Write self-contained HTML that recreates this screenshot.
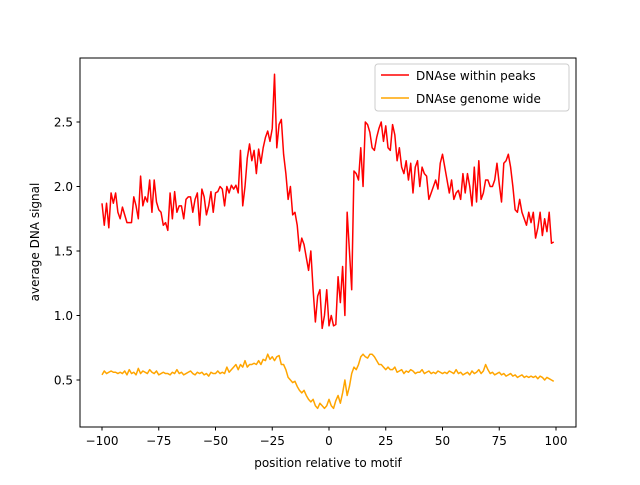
<!DOCTYPE html>
<html><head><meta charset="utf-8"><style>
body{margin:0;background:#fff;font-family:"Liberation Sans","DejaVu Sans",sans-serif}
text{font-family:"DejaVu Sans","Liberation Sans",sans-serif;font-size:12px;fill:#000}
</style></head><body>
<svg id="chart" width="640" height="480">
<rect x="0" y="0" width="640" height="480" fill="#fff"/>
<g id="plot"></g>
<rect x="80" y="58" width="496" height="369" fill="none" stroke="#000" stroke-width="1"/>
<g id="xt"></g><g id="yt"></g>
<text x="328" y="467" text-anchor="middle">position relative to motif</text>
<text transform="translate(39,242) rotate(-90)" text-anchor="middle">average DNA signal</text>
<g>
<rect x="375" y="64" width="194" height="47" rx="3" fill="#fff" stroke="#ccc"/>
<line x1="381" y1="75" x2="409" y2="75" stroke="red" stroke-width="1.5"/>
<text x="416" y="80">DNAse within peaks</text>
<line x1="381" y1="98" x2="409" y2="98" stroke="orange" stroke-width="1.5"/>
<text x="416" y="103">DNAse genome wide</text>
</g>
</svg>
<script>
const xTicks=[-100,-75,-50,-25,0,25,50,75,100];
const yTicks=[0.5,1.0,1.5,2.0,2.5];
const peaks=[1.87,1.70,1.87,1.68,1.95,1.87,1.95,1.80,1.75,1.84,
1.78,1.72,1.72,1.72,1.92,1.85,1.75,2.08,1.85,1.92,
1.88,2.05,1.80,2.05,1.88,1.82,1.80,1.70,1.72,1.66,
1.95,1.75,1.96,1.80,1.85,1.85,1.75,1.90,1.92,1.92,
1.80,1.90,1.95,1.70,1.98,1.92,1.78,1.85,1.96,1.80,
1.95,1.96,2.00,1.98,1.85,2.00,1.95,2.01,1.98,2.01,
1.95,2.28,1.85,2.00,2.22,2.33,2.20,2.28,2.10,2.29,
2.18,2.30,2.38,2.43,2.35,2.45,2.87,2.30,2.48,2.52,
2.25,2.10,1.90,2.00,1.78,1.80,1.70,1.50,1.60,1.55,
1.45,1.35,1.50,1.20,0.95,1.15,1.20,0.90,1.00,1.20,
0.92,1.00,0.92,0.93,1.30,1.10,1.38,1.00,1.80,1.50,
1.20,2.12,2.10,2.05,2.30,2.00,2.50,2.48,2.42,2.30,
2.28,2.38,2.45,2.50,2.35,2.47,2.30,2.28,2.48,2.40,
2.20,2.30,2.15,2.10,2.20,2.05,2.18,1.95,2.15,2.20,
2.00,2.15,2.10,2.08,1.90,1.95,2.00,2.05,1.98,2.18,
2.25,2.15,2.05,1.95,2.05,1.90,1.95,1.97,1.90,2.10,
1.95,2.10,2.00,1.85,2.15,1.88,2.20,1.90,1.95,2.05,
2.05,2.00,2.00,2.05,2.18,2.02,1.88,2.18,2.20,2.25,
2.15,2.00,1.82,1.80,1.90,1.80,1.75,1.70,1.80,1.72,
1.80,1.60,1.68,1.80,1.62,1.75,1.65,1.80,1.56,1.57];
const genome=[0.54,0.57,0.55,0.56,0.57,0.56,0.56,0.55,0.56,0.55,
0.57,0.54,0.58,0.55,0.56,0.54,0.59,0.55,0.57,0.56,
0.55,0.58,0.56,0.55,0.57,0.54,0.55,0.56,0.55,0.55,
0.54,0.56,0.55,0.58,0.55,0.56,0.54,0.55,0.56,0.57,
0.55,0.54,0.56,0.55,0.56,0.54,0.55,0.53,0.56,0.55,
0.55,0.57,0.55,0.56,0.55,0.60,0.56,0.58,0.60,0.62,
0.58,0.62,0.60,0.65,0.60,0.62,0.62,0.63,0.62,0.65,
0.62,0.66,0.65,0.70,0.66,0.68,0.65,0.68,0.69,0.62,
0.62,0.58,0.52,0.50,0.48,0.49,0.45,0.42,0.40,0.42,
0.38,0.35,0.33,0.35,0.30,0.28,0.32,0.30,0.28,0.30,
0.35,0.30,0.28,0.34,0.38,0.32,0.40,0.50,0.38,0.45,
0.55,0.60,0.58,0.62,0.68,0.70,0.68,0.67,0.70,0.70,
0.68,0.65,0.62,0.62,0.60,0.58,0.60,0.58,0.58,0.60,
0.56,0.57,0.58,0.55,0.57,0.56,0.58,0.57,0.55,0.56,
0.56,0.58,0.55,0.56,0.57,0.55,0.56,0.55,0.57,0.56,
0.55,0.56,0.55,0.57,0.56,0.55,0.58,0.55,0.56,0.54,
0.55,0.56,0.54,0.57,0.55,0.56,0.58,0.55,0.57,0.62,
0.58,0.55,0.56,0.54,0.55,0.56,0.54,0.55,0.53,0.54,
0.55,0.53,0.54,0.52,0.53,0.54,0.52,0.53,0.52,0.53,
0.52,0.53,0.51,0.53,0.52,0.50,0.52,0.51,0.50,0.49];
const NS='http://www.w3.org/2000/svg';
const xs=v=>102+(v+100)*(556-102)/200;
const ys=v=>315.5-(v-1.0)*129;
function mk(t,a,p){const e=document.createElementNS(NS,t);for(const k in a)e.setAttribute(k,a[k]);p.appendChild(e);return e;}
const plot=document.getElementById('plot');
function line(arr,color,name){
  const d=arr.map((v,i)=>(i?'L':'M')+xs(i-100).toFixed(2)+' '+ys(v).toFixed(2)).join(' ');
  const p=mk('path',{d:d,fill:'none',stroke:color,'stroke-width':1.5,'stroke-linejoin':'round'},plot);
  
  
}
line(peaks,'red','series-within-peaks');
line(genome,'orange','series-genome-wide');
const xt=document.getElementById('xt');
xTicks.forEach(t=>{
  mk('line',{x1:xs(t),x2:xs(t),y1:427,y2:430.5,stroke:'#000'},xt);
  const tx=mk('text',{x:xs(t),y:445,'text-anchor':'middle'},xt);
  tx.textContent=(t<0?'\u2212'+(-t):t);
  
  
});
const yt=document.getElementById('yt');
yTicks.forEach(t=>{
  mk('line',{x1:76.5,x2:80,y1:ys(t),y2:ys(t),stroke:'#000'},yt);
  const tx=mk('text',{x:73,y:ys(t)+4.5,'text-anchor':'end'},yt);
  tx.textContent=t.toFixed(1);
  
  
});
</script>
</body></html>
